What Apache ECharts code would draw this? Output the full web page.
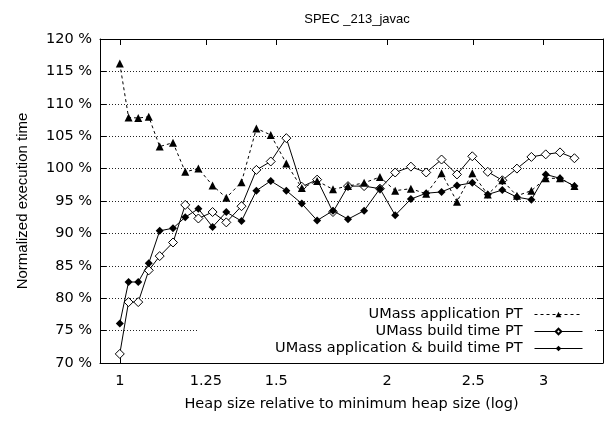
<!DOCTYPE html>
<html>
<head>
<meta charset="utf-8">
<script src="https://cdn.jsdelivr.net/npm/echarts@6/dist/echarts.min.js"></script>
<style>
html,body{margin:0;padding:0;background:#fff;}
#chart{width:607px;height:421px;}
</style>
</head>
<body>
<div id="chart"></div>
<script>
// Heap size relative to minimum heap size
var heapSizes = [1.000, 1.023, 1.049, 1.078, 1.109, 1.148, 1.185, 1.226, 1.272, 1.318, 1.371, 1.425,
  1.479, 1.540, 1.603, 1.668, 1.738, 1.807, 1.884, 1.963, 2.042, 2.127, 2.213, 2.303,
  2.397, 2.494, 2.596, 2.696, 2.800, 2.907, 3.017, 3.131, 3.250];
// Normalized execution time (%)
var appPT = [116.2, 107.9, 107.8, 108.0, 103.4, 104.0, 99.5, 100.0, 97.4, 95.5, 97.9, 106.2,
  105.2, 100.8, 97.0, 98.1, 96.8, 97.3, 97.8, 98.7, 96.6, 96.9, 96.1, 99.3,
  94.9, 99.3, 96.0, 98.2, 95.8, 96.6, 98.5, 98.5, 97.3];
var buildPT = [71.4, 79.4, 79.4, 84.3, 86.5, 88.6, 94.4, 92.3, 93.3, 91.7, 94.2, 99.8,
  101.1, 104.7, 97.2, 98.3, 93.3, 97.3, 97.3, 96.9, 99.4, 100.3, 99.4, 101.4,
  99.1, 101.9, 99.5, 98.2, 100.0, 101.8, 102.2, 102.5, 101.6];
var appBuildPT = [76.1, 82.5, 82.5, 85.4, 90.4, 90.8, 92.5, 93.8, 91.0, 93.3, 91.9, 96.6,
  98.1, 96.6, 94.6, 92.0, 93.5, 92.2, 93.5, 96.9, 92.8, 95.3, 96.2, 96.4,
  97.4, 97.8, 96.0, 96.7, 95.6, 95.2, 99.1, 98.5, 97.3];
var xTicks = [1, 1.25, 1.5, 2, 2.5, 3];
var seriesNames = ['UMass application PT', 'UMass build time PT', 'UMass application & build time PT'];
var titleText = 'SPEC _213_javac';
var xName = 'Heap size relative to minimum heap size (log)';
var yName = 'Normalized execution time';

function pairs(ys) { return heapSizes.map(function (x, i) { return [x, ys[i]]; }); }

var FONT = 'Liberation Sans, Arial, sans-serif';
var WFONT = 'DejaVu Sans, sans-serif';
var chart = echarts.init(document.getElementById('chart'), null, {renderer: 'canvas'});
var xCommon = {
  type: 'log', logBase: 10, min: 0.95, max: 3.5,
  axisLine: {show: true, lineStyle: {color: '#000', width: 1}},
  axisTick: {show: true, inside: true, length: 6, customValues: xTicks, lineStyle: {color: '#000'}},
  splitLine: {show: false}, minorTick: {show: false}, minorSplitLine: {show: false}
};
var yCommon = {
  type: 'value', min: 70, max: 120, interval: 5,
  axisLine: {show: true, lineStyle: {color: '#000', width: 1}},
  axisTick: {show: true, inside: true, length: 6, lineStyle: {color: '#000'}}
};
chart.setOption({
  animation: false,
  backgroundColor: '#fff',
  title: {text: titleText, left: 352, textAlign: 'center', top: 8,
    textStyle: {fontFamily: FONT, fontSize: 13, fontWeight: 'normal', color: '#000'}},
  grid: {left: 100, right: 4, top: 39, bottom: 58, containLabel: false},
  xAxis: [
    Object.assign({}, xCommon, {
      position: 'bottom',
      axisLabel: {show: true, customValues: xTicks, color: '#000', fontFamily: WFONT, fontSize: 14.5, margin: 11,
        formatter: function (v) { return String(v); }},
      name: xName, nameLocation: 'middle', nameGap: 34,
      nameTextStyle: {fontFamily: WFONT, fontSize: 14.5, color: '#000'}
    }),
    Object.assign({}, xCommon, {position: 'top', axisLabel: {show: false}})
  ],
  yAxis: [
    Object.assign({}, yCommon, {
      position: 'left',
      axisLabel: {formatter: '{value} %', color: '#000', fontFamily: WFONT, fontSize: 14.5, margin: 8},
      splitLine: {show: true, lineStyle: {type: [1, 2], color: '#222', width: 1}},
      name: yName, nameLocation: 'middle', nameGap: 70,
      nameTextStyle: {fontFamily: FONT, fontSize: 15, color: '#000'}
    }),
    Object.assign({}, yCommon, {position: 'right', axisLabel: {show: false}, splitLine: {show: false}})
  ],
  legend: {
    orient: 'vertical', align: 'right', right: 14, top: 305,
    itemWidth: 48, itemHeight: 7, itemGap: 2,
    padding: [2, 10, 7, 76], backgroundColor: '#fff',
    lineStyle: {width: 1},
    textStyle: {fontFamily: WFONT, fontSize: 14.5, lineHeight: 15, color: '#000', padding: [0, 7, 0, 0]},
    data: seriesNames
  },
  series: [
    {name: seriesNames[0], type: 'line', data: pairs(appPT), symbol: 'triangle', symbolSize: 8,
      itemStyle: {color: '#000'}, lineStyle: {color: '#000', width: 1, type: [3, 3]}, z: 3},
    {name: seriesNames[1], type: 'line', data: pairs(buildPT), symbol: 'diamond', symbolSize: 9,
      itemStyle: {color: '#fff', borderColor: '#000', borderWidth: 1}, lineStyle: {color: '#000', width: 1}, z: 2},
    {name: seriesNames[2], type: 'line', data: pairs(appBuildPT), symbol: 'diamond', symbolSize: 8,
      itemStyle: {color: '#000'}, lineStyle: {color: '#000', width: 1}, z: 4}
  ]
});
</script>
</body>
</html>
